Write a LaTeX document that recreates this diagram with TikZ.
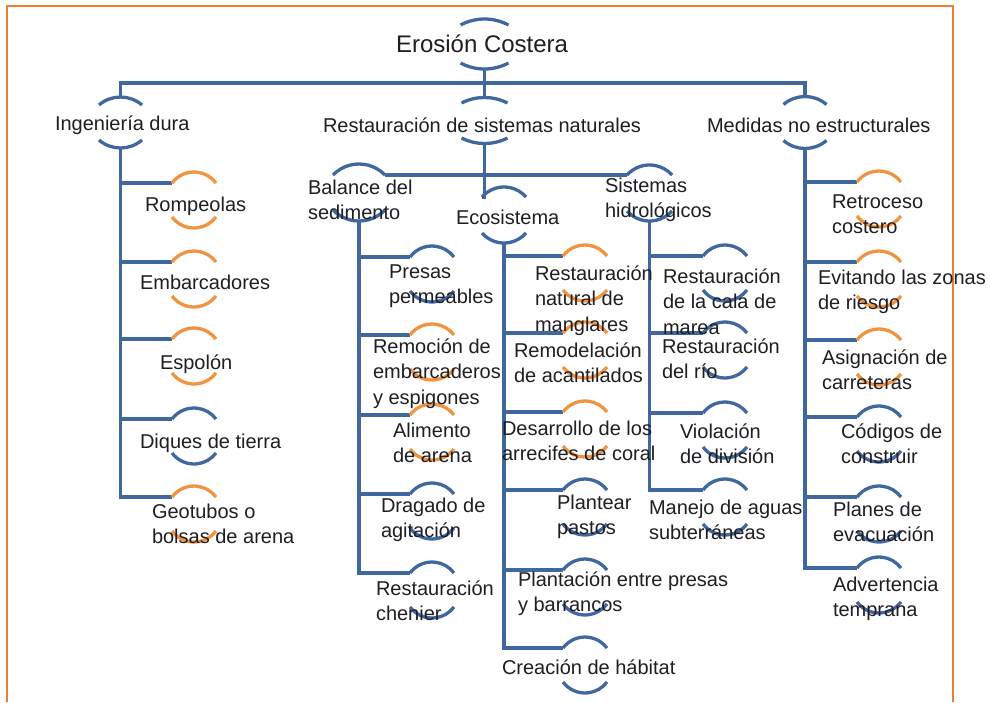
\documentclass[tikz,border=0pt]{standalone}
\usepackage{fontspec}
\setmainfont{Liberation Sans}
\definecolor{navy}{RGB}{64,104,158}
\definecolor{orng}{RGB}{241,148,66}
\definecolor{framec}{RGB}{237,125,49}
\definecolor{txt}{RGB}{30,30,35}
\newcommand\lblfont{\fontsize{20}{25.5}\selectfont}
\newcommand\ttlfont{\fontsize{24}{28}\selectfont}
\newcommand\sth{\rule{0pt}{15pt}}
\newcommand\ringarcs[4]{%
  \draw[arcln,draw=#4] (#1.north west) arc[start angle={90+#2}, end angle={90-#2}, radius=#3pt];
  \draw[arcln,draw=#4] (#1.south west) arc[start angle={270-#2}, end angle={270+#2}, radius=#3pt];
}
\tikzset{
  conn/.style={draw=navy, line width=3.8pt},
  arcln/.style={line width=3.3pt},
  box/.style={rectangle, inner sep=0pt, outer sep=0pt, draw=none},
  kid/.style={box, minimum width=44pt, minimum height=34pt},
  lbl/.style={anchor=north west, inner sep=0pt, outer sep=0pt, align=left, font=\lblfont, text=txt},
}
\begin{document}
\begin{tikzpicture}[x=1pt,y=1pt]
\useasboundingbox (0,0) rectangle (990,-702);
\draw[draw=framec, line width=1.5pt] (7,-702) -- (7,-6) -- (953,-6) -- (953,-702);

% top-level ring nodes
\node[box, minimum width=48pt, minimum height=38pt] (root) at (484.5,-44) {};
\node[box, minimum width=46pt, minimum height=35pt] (rest) at (484.5,-120.5) {};
\node[box, minimum width=43pt, minimum height=35pt] (ing) at (120.5,-122.5) {};
\node[box, minimum width=43pt, minimum height=36pt] (med) at (805,-122.5) {};
\node[box, minimum width=52pt, minimum height=35pt] (bal) at (359,-192.5) {};
\node[box, minimum width=44pt, minimum height=36pt] (eco) at (504,-215) {};
\node[box, minimum width=45pt, minimum height=36pt] (sis) at (649.5,-193) {};

% children of Ingenieria dura
\node[kid] (rom) at (194,-200) {};
\node[kid] (emb) at (194,-279) {};
\node[kid] (esp) at (194,-356) {};
\node[kid] (diq) at (194,-436) {};
\node[kid] (geo) at (194,-514) {};
% children of Balance
\node[kid] (pre) at (432,-274) {};
\node[kid] (remo) at (432,-352) {};
\node[kid] (ali) at (432,-432) {};
\node[kid] (dra) at (432,-511) {};
\node[kid] (che) at (432,-590) {};
% children of Ecosistema
\node[kid] (man) at (585,-273) {};
\node[kid] (aca) at (585,-350) {};
\node[kid] (arr) at (585,-429) {};
\node[kid] (pas) at (585,-507) {};
\node[kid] (bar) at (585,-587) {};
\node[kid] (hab) at (585,-665) {};
% children of Sistemas hidrologicos
\node[kid] (cal) at (725,-273) {};
\node[kid] (rio) at (725,-350) {};
\node[kid] (vio) at (725,-430) {};
\node[kid] (sub) at (725,-507) {};
% children of Medidas no estructurales
\node[kid] (ret) at (879,-199) {};
\node[kid] (evi) at (879,-279) {};
\node[kid] (asi) at (879,-357) {};
\node[kid] (cod) at (879,-434) {};
\node[kid] (pla) at (879,-514) {};
\node[kid] (adv) at (879,-585) {};

% connectors
\coordinate (hbar) at (484.5,-83);
\draw[conn] ([yshift=-6pt]root.south) -- ([yshift=5.5pt]rest.north);
\draw[conn] ([yshift=8pt]ing.north) |- (hbar) -| ([yshift=8pt]med.north);
\draw[conn] ([yshift=-5.5pt]rest.south) |- (eco.north west);
\draw[conn] (bal.north east) -- (sis.north west);

\draw[conn] ([yshift=-8pt]ing.south) |- (geo.north west);
\foreach \c in {rom,emb,esp,diq} \draw[conn] (ing.south |- \c.north west) -- (\c.north west);
\draw[conn] ([yshift=-11pt]bal.south) |- (che.north west);
\foreach \c in {pre,remo,ali,dra} \draw[conn] (bal.south |- \c.north west) -- (\c.north west);
\draw[conn] ([yshift=-10pt]eco.south) |- (hab.north west);
\foreach \c in {man,aca,arr,pas,bar} \draw[conn] (eco.south |- \c.north west) -- (\c.north west);
\draw[conn] ([yshift=-10pt]sis.south) |- (sub.north west);
\foreach \c in {cal,rio,vio} \draw[conn] (sis.south |- \c.north west) -- (\c.north west);
\draw[conn] ([yshift=-8pt]med.south) |- (adv.north west);
\foreach \c in {ret,evi,asi,cod,pla} \draw[conn] (med.south |- \c.north west) -- (\c.north west);

% arcs
\ringarcs{root}{28.07}{51}{navy}
\ringarcs{rest}{26.9}{50.84}{navy}
\ringarcs{ing}{40.8}{32.9}{navy}
\ringarcs{med}{40.8}{32.9}{navy}
\ringarcs{bal}{45.9}{36.2}{navy}
\ringarcs{eco}{48.9}{29.2}{navy}
\ringarcs{sis}{48}{30.3}{navy}
\foreach \c in {rom,emb,esp,geo,remo,ali,man,aca,arr,ret,evi,asi} {\ringarcs{\c}{53.13}{27.5}{orng}}
\foreach \c in {diq,pre,dra,che,pas,bar,hab,cal,rio,vio,sub,cod,pla,adv} {\ringarcs{\c}{53.13}{27.5}{navy}}

% labels
\node[lbl, font=\ttlfont] (t-root) at (396,-34) {\rule{0pt}{18pt}Erosión Costera};
\node[lbl] (t-ing) at (55,-115) {\sth Ingeniería dura};
\node[lbl] (t-rest) at (323,-117) {\sth Restauración de sistemas naturales};
\node[lbl] (t-med) at (707,-117) {\sth Medidas no estructurales};
\node[lbl] (t-bal) at (308,-179) {\sth Balance del\\sedimento};
\node[lbl] (t-eco) at (456,-209) {\sth Ecosistema};
\node[lbl] (t-sis) at (605,-177) {\sth Sistemas\\hidrológicos};

\node[lbl] (t-rom) at (145,-196) {\sth Rompeolas};
\node[lbl] (t-emb) at (140,-274) {\sth Embarcadores};
\node[lbl] (t-esp) at (160,-354) {\sth Espolón};
\node[lbl] (t-diq) at (140,-433) {\sth Diques de tierra};
\node[lbl] (t-geo) at (152,-503) {\sth Geotubos o\\bolsas de arena};

\node[lbl] (t-pre) at (389,-263) {\sth Presas\\permeables};
\node[lbl] (t-remo) at (373,-338) {\sth Remoción de\\embarcaderos\\y espigones};
\node[lbl] (t-ali) at (393,-422) {\sth Alimento\\de arena};
\node[lbl] (t-dra) at (381,-497) {\sth Dragado de\\agitación};
\node[lbl] (t-che) at (376,-580) {\sth Restauración\\chenier};

\node[lbl] (t-man) at (535,-265) {\sth Restauración\\natural de\\manglares};
\node[lbl] (t-aca) at (514,-342) {\sth Remodelación\\de acantilados};
\node[lbl] (t-arr) at (502,-420) {\sth Desarrollo de los\\arrecifes de coral};
\node[lbl] (t-pas) at (557,-494) {\sth Plantear\\pastos};
\node[lbl] (t-bar) at (518,-571) {\sth Plantación entre presas\\y barrancos};
\node[lbl] (t-hab) at (502,-659) {\sth Creación de hábitat};

\node[lbl] (t-cal) at (663,-268) {\sth Restauración\\de la cala de\\marea};
\node[lbl] (t-rio) at (662,-338) {\sth Restauración\\del río};
\node[lbl] (t-vio) at (680,-423) {\sth Violación\\de división};
\node[lbl] (t-sub) at (649,-499) {\sth Manejo de aguas\\subterráneas};

\node[lbl] (t-ret) at (832,-193) {\sth Retroceso\\costero};
\node[lbl] (t-evi) at (818,-269) {\sth Evitando las zonas\\de riesgo};
\node[lbl] (t-asi) at (822,-349) {\sth Asignación de\\carreteras};
\node[lbl] (t-cod) at (841,-423) {\sth Códigos de\\construir};
\node[lbl] (t-pla) at (833,-501) {\sth Planes de\\evacuación};
\node[lbl] (t-adv) at (833,-576) {\sth Advertencia\\temprana};
\end{tikzpicture}
\end{document}
